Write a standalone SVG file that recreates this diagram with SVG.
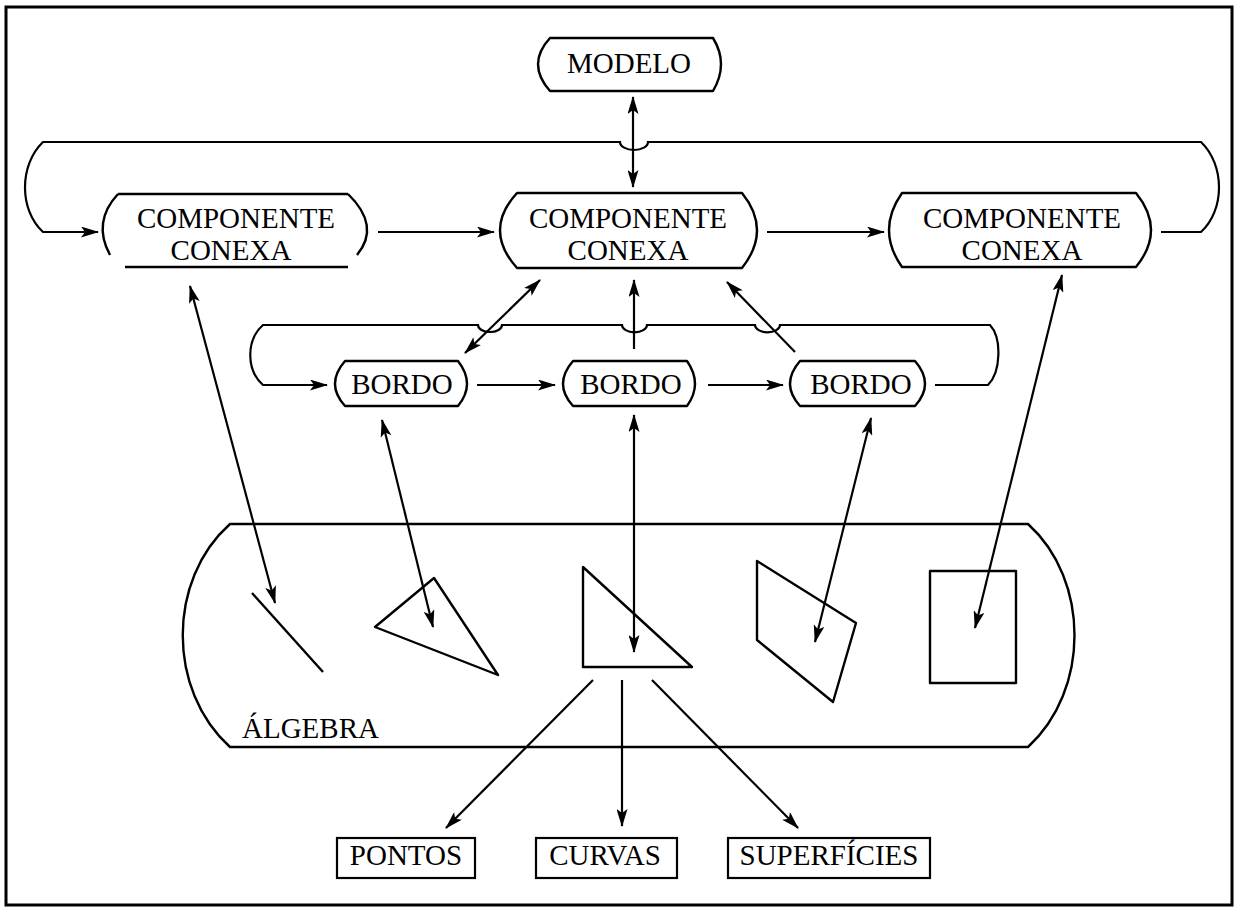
<svg xmlns="http://www.w3.org/2000/svg" width="1244" height="908" viewBox="0 0 1244 908">
  <style>
    .frame { fill: none; stroke: #000; stroke-width: 3; }
    .shape { fill: none; stroke: #000; stroke-width: 2.4; stroke-linejoin: round; }
    .box { fill: none; stroke: #000; stroke-width: 2.2; }
    .line { fill: none; stroke: #000; stroke-width: 2.2; }
    .one { marker-end: url(#head); }
    .two { marker-start: url(#head); marker-end: url(#head); }
    .label { font-family: "Liberation Serif", "Times New Roman", serif; font-size: 29px; fill: #000; text-anchor: middle; }
    .left { text-anchor: start; }
  </style>
  <defs>
    <marker id="head" viewBox="0 0 18 11" refX="17" refY="5.5" markerWidth="18" markerHeight="11" markerUnits="userSpaceOnUse" orient="auto-start-reverse">
      <path d="M0,0 L18,5.5 L0,11 L4,5.5 Z" fill="#000"/>
    </marker>
  </defs>

  <rect width="1244" height="908" fill="#fff"/>
  <rect class="frame" x="6" y="7" width="1226" height="898"/>

  <g id="connectors">
    <!-- outer loop linking the connected components -->
    <path class="line one" d="M1161,232 L1201,232 C1225,210 1225,165 1201,142 L648,142 A14,8 0 0 1 620,142 L43,142 C19,165 19,210 43,232 L98,232"/>
    <!-- inner loop linking the borders -->
    <path class="line one" d="M935,385 L988,385 C1001,372 1002,338 990,325 L780,325 A12,7 0 0 1 755,325 L647,325 A12,7 0 0 1 622,325 L502,325 A12,7 0 0 1 478,325 L263,325 C246,340 246,370 263,385 L327,385"/>

    <!-- model <-> central component -->
    <line class="line two" x1="633" y1="97" x2="633" y2="187"/>

    <!-- component chain -->
    <line class="line one" x1="378" y1="232" x2="494" y2="232"/>
    <line class="line one" x1="767" y1="232" x2="884" y2="232"/>

    <!-- border chain -->
    <line class="line one" x1="477" y1="385" x2="555" y2="385"/>
    <line class="line one" x1="708" y1="385" x2="783" y2="385"/>

    <!-- borders -> central component -->
    <line class="line two" x1="465" y1="353" x2="540" y2="280"/>
    <line class="line one" x1="634" y1="349" x2="634" y2="280"/>
    <line class="line one" x1="795" y1="352" x2="727" y2="282"/>

    <!-- topology <-> algebra -->
    <line class="line two" x1="190" y1="286" x2="275" y2="603"/>
    <line class="line two" x1="382" y1="420" x2="433" y2="627"/>
    <line class="line two" x1="634" y1="415" x2="634" y2="652"/>
    <line class="line two" x1="871" y1="418" x2="815" y2="642"/>
    <line class="line two" x1="1062" y1="275" x2="975" y2="628"/>

    <!-- algebra -> geometric primitives -->
    <line class="line one" x1="593" y1="680" x2="446" y2="828"/>
    <line class="line one" x1="622" y1="680" x2="622" y2="826"/>
    <line class="line one" x1="652" y1="680" x2="798" y2="828"/>
  </g>

  <g id="modelo">
    <path class="shape" d="M550,38 L713,38 Q729,64 713,91 L550,91 Q526,64 550,38 Z"/>
    <text class="label" x="629" y="73">MODELO</text>
  </g>

  <g id="componente-1">
    <path class="shape" d="M118,194 L348,194"/>
    <path class="shape" d="M118,194 Q92,222 110,255"/>
    <path class="shape" d="M348,194 Q381,226 357,255"/>
    <path class="shape" d="M125,267 L348,267"/>
    <text class="label" x="236" y="228">COMPONENTE</text>
    <text class="label" x="231" y="260">CONEXA</text>
  </g>

  <g id="componente-2">
    <path class="shape" d="M517,193 L742,193 Q772,230 742,268 L517,268 Q483,230 517,193 Z"/>
    <text class="label" x="628" y="228">COMPONENTE</text>
    <text class="label" x="628" y="260">CONEXA</text>
  </g>

  <g id="componente-3">
    <path class="shape" d="M902,193 L1136,193 Q1166,230 1136,267 L902,267 Q876,230 902,193 Z"/>
    <text class="label" x="1022" y="228">COMPONENTE</text>
    <text class="label" x="1022" y="260">CONEXA</text>
  </g>

  <g id="bordo-1">
    <path class="shape" d="M345,361 L458,361 Q476,384 458,406 L345,406 Q325,384 345,361 Z"/>
    <text class="label" x="402" y="394">BORDO</text>
  </g>

  <g id="bordo-2">
    <path class="shape" d="M573,361 L687,361 Q703,384 687,406 L573,406 Q553,384 573,361 Z"/>
    <text class="label" x="631" y="394">BORDO</text>
  </g>

  <g id="bordo-3">
    <path class="shape" d="M800,361 L915,361 Q935,384 915,406 L800,406 Q780,384 800,361 Z"/>
    <text class="label" x="861" y="394">BORDO</text>
  </g>

  <g id="algebra">
    <path class="shape" d="M230,524 L1028,524 C1090,580 1090,690 1028,747 L230,747 C167,690 167,580 230,524 Z"/>
    <line class="shape" x1="252" y1="593" x2="323" y2="672"/>
    <polygon class="shape" points="375,627 434,578 498,675"/>
    <polygon class="shape" points="583,567 583,667 692,667"/>
    <polygon class="shape" points="757,561 856,623 833,702 757,640"/>
    <rect class="shape" x="930" y="571" width="86" height="112"/>
    <text class="label left" x="242" y="738">ÁLGEBRA</text>
  </g>

  <g id="pontos">
    <rect class="box" x="337" y="838" width="138" height="40"/>
    <text class="label" x="406" y="865">PONTOS</text>
  </g>

  <g id="curvas">
    <rect class="box" x="536" y="838" width="141" height="40"/>
    <text class="label" x="605" y="865">CURVAS</text>
  </g>

  <g id="superficies">
    <rect class="box" x="728" y="838" width="202" height="40"/>
    <text class="label" x="829" y="865">SUPERFÍCIES</text>
  </g>
</svg>
